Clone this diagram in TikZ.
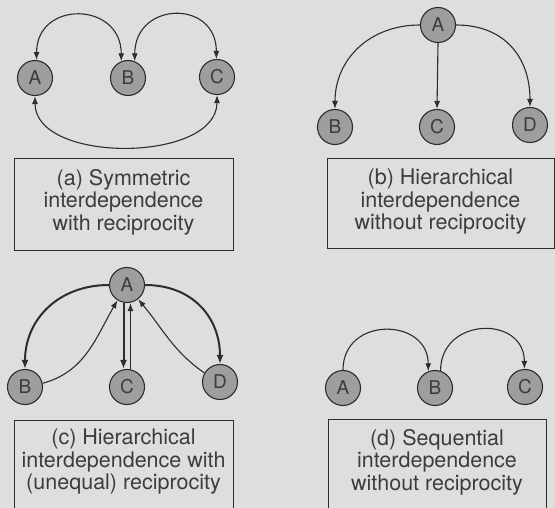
\documentclass[tikz,border=0pt]{standalone}
\usepackage{fontspec}
\setmainfont{TeX Gyre Heros}
\usetikzlibrary{arrows.meta}
\definecolor{bgc}{RGB}{222,222,220}
\definecolor{nodec}{RGB}{158,158,158}
\definecolor{inkc}{RGB}{45,45,45}
\definecolor{textc}{RGB}{60,60,60}
\tikzset{
  agent/.style={circle, draw=inkc, line width=1.1pt, fill=nodec, minimum size=35pt, inner sep=0pt,
    text=textc, font=\fontsize{19}{19}\selectfont},
  capbox/.style={draw=inkc, line width=1pt, fill=bgc, anchor=north west, inner sep=0pt},
  captext/.style={align=center, text=textc, font=\fontsize{21.5}{22.5}\selectfont, inner sep=0pt},
  link/.style={draw=inkc, line width=1.1pt, -{Latex[length=8pt,width=6pt]}},
  dlink/.style={draw=inkc, line width=1.1pt, {Latex[length=8pt,width=6pt]}-{Latex[length=8pt,width=6pt]}},
  thick link/.style={draw=inkc, line width=2pt, -{Latex[length=9pt,width=7pt]}},
}
\begin{document}
\begin{tikzpicture}[x=1pt,y=-1pt]
\clip (0,0) rectangle (555,508);
\fill[bgc] (0,0) rectangle (555,508);

% ---------- (a) ----------
\node[agent] (aA) at (35,78) {A};
\node[agent] (aB) at (128,78) {B};
\node[agent] (aC) at (217,77) {C};
\draw[dlink] (aA.85) .. controls +(0,-60) and +(0,-60) .. (aB.112);
\draw[dlink] (aB.68) .. controls +(0,-60) and +(0,-60) .. (aC.92);
\draw[dlink] (aA.-90) .. controls +(0,68) and +(0,68) .. (aC.-90);
\node[capbox, minimum width=219pt, minimum height=92pt] (capa) at (14,158) {};
\node[captext] (txta) at (123.5,202) {(a) Symmetric\\interdependence\\with reciprocity};

% ---------- (b) ----------
\node[agent] (bA) at (438,25) {A};
\node[agent] (bB) at (335,127) {B};
\node[agent] (bC) at (437,127) {C};
\node[agent] (bD) at (530,125) {D};
\draw[link] (bA.west) .. controls +(-50,0) and +(0,-50) .. (bB.north);
\draw[link] (bA.south) -- (bC.north);
\draw[link] (bA.east) .. controls +(50,0) and +(0,-48) .. (bD.north);
\node[capbox, minimum width=227pt, minimum height=90pt] (capb) at (327,158) {};
\node[captext] (txtb) at (440.5,202) {(b) Hierarchical\\interdependence\\without reciprocity};

% ---------- (c) ----------
\node[agent] (cA) at (127,285) {A};
\node[agent] (cB) at (25,387) {B};
\node[agent] (cC) at (127,387) {C};
\node[agent] (cD) at (220,382) {D};
\draw[thick link] (cA.west) .. controls +(-50,0) and +(0,-50) .. (cB.north);
\draw[link] (cB.12) to[out=15, in=240] (cA.238);
\draw[thick link] ([xshift=-3.5pt]cA.south) -- ([xshift=-3.5pt]cC.north);
\draw[link] ([xshift=3.5pt]cC.north) -- ([xshift=3.5pt]cA.south);
\draw[thick link] (cA.east) .. controls +(48,0) and +(0,-46) .. (cD.north);
\draw[link] (cD.150) to[out=145, in=-50] (cA.-52);
\node[capbox, minimum width=219pt, minimum height=100pt] (capc) at (14,420) {};
\node[captext] (txtc) at (123.5,462) {(c) Hierarchical\\interdependence with\\(unequal) reciprocity};

% ---------- (d) ----------
\node[agent] (dA) at (343,388) {A};
\node[agent] (dB) at (435,388) {B};
\node[agent] (dC) at (525,387) {C};
\draw[link] (dA.north) .. controls +(0,-54) and +(0,-54) .. (dB.112);
\draw[link] (dB.72) .. controls +(0,-54) and +(0,-54) .. (dC.92);
\node[capbox, minimum width=218pt, minimum height=100pt] (capd) at (328,419) {};
\node[captext] (txtd) at (437,462) {(d) Sequential\\interdependence\\without reciprocity};
\end{tikzpicture}
\end{document}
